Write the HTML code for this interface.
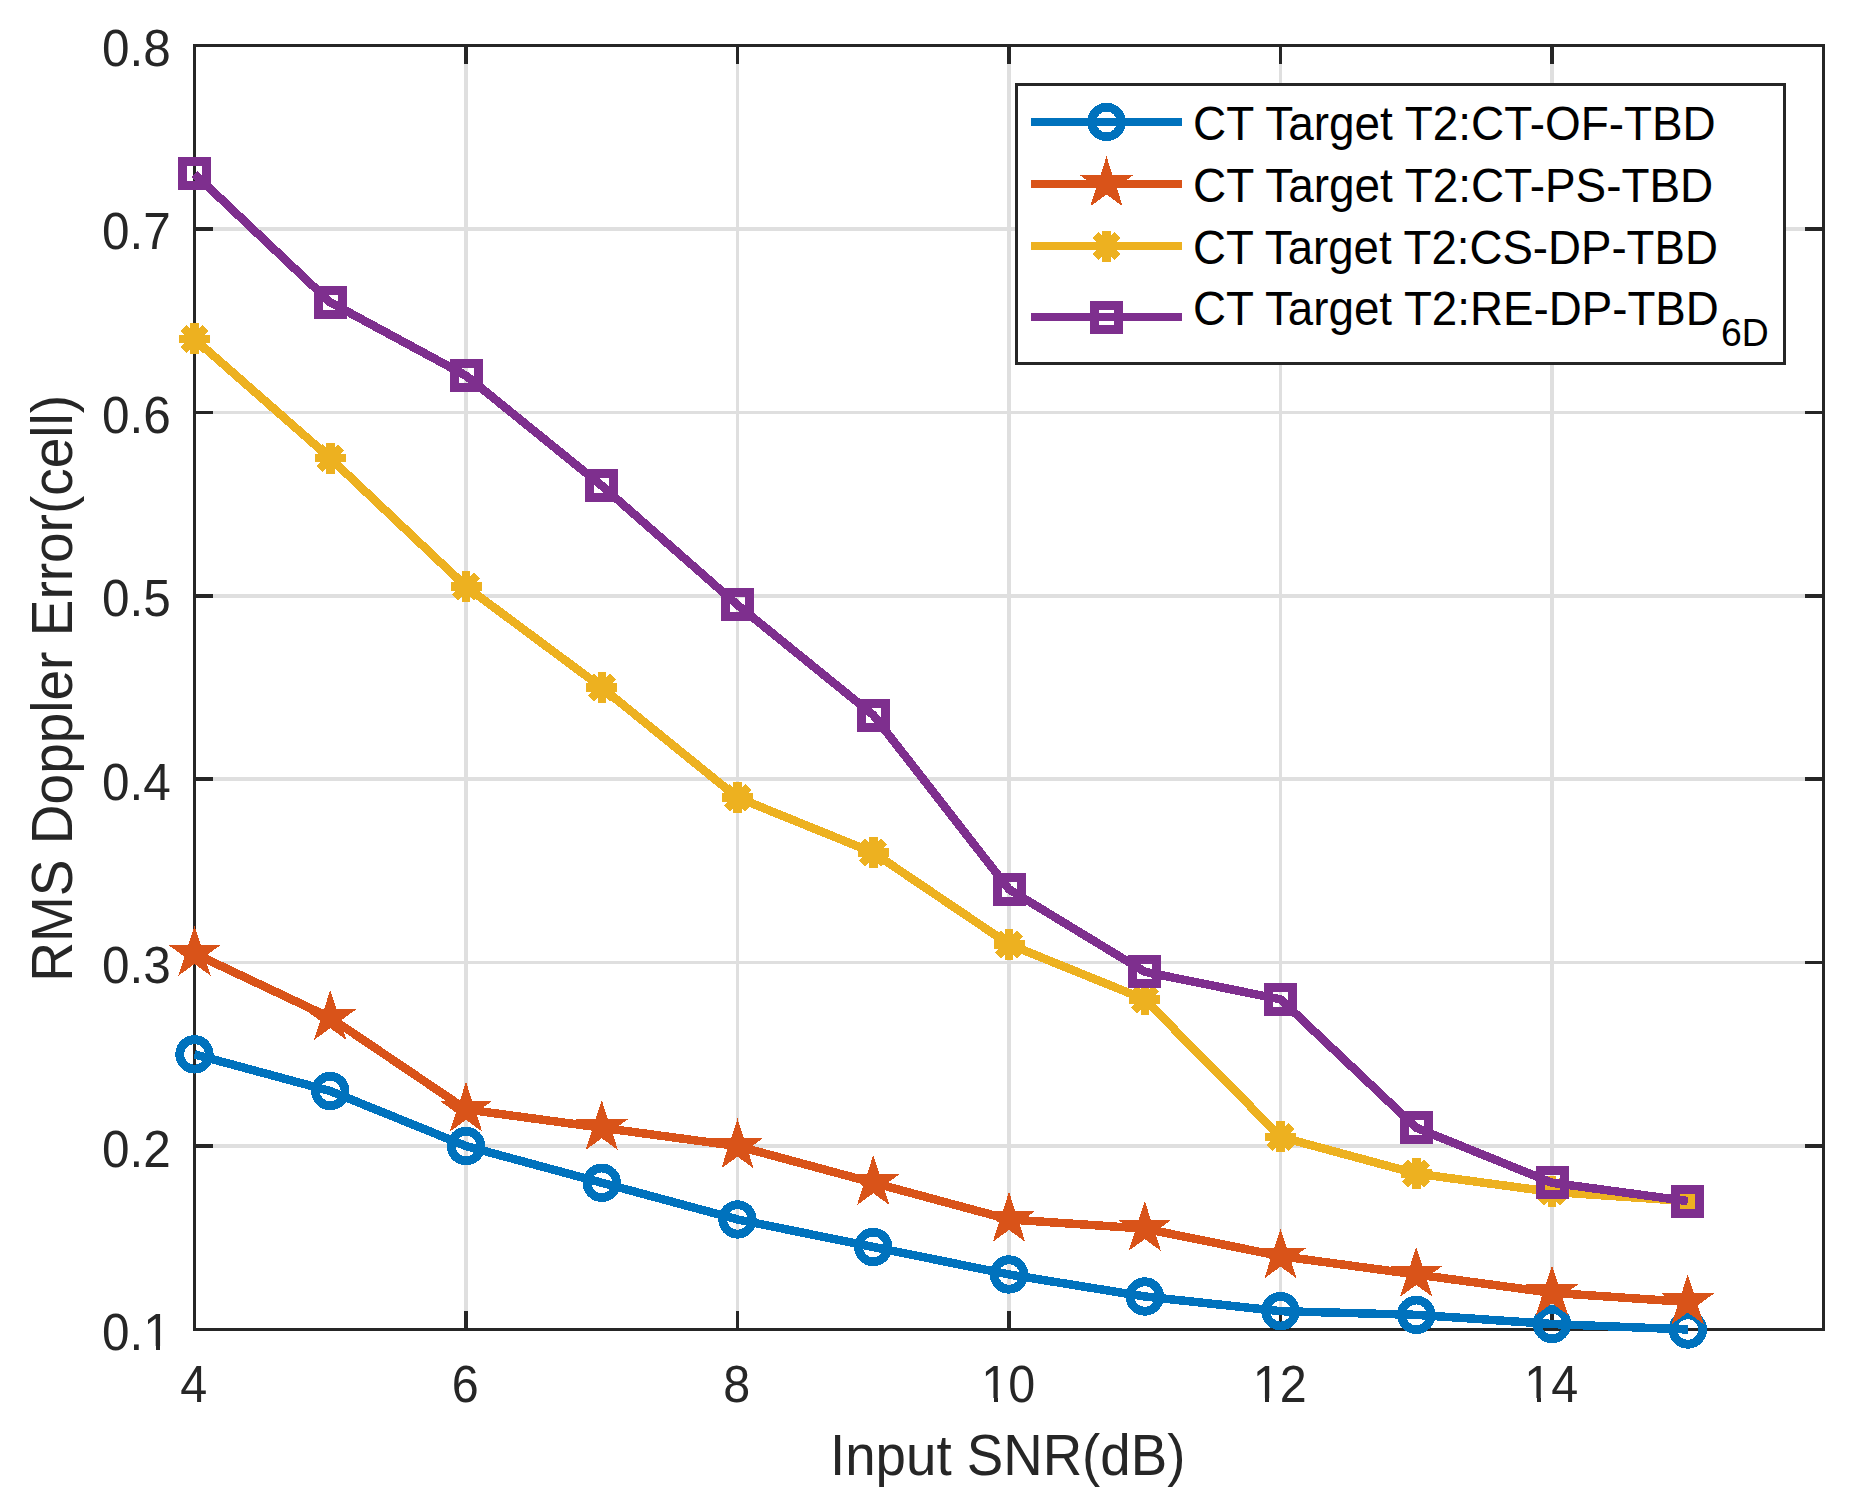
<!DOCTYPE html>
<html><head><meta charset="utf-8"><title>RMS Doppler Error</title>
<style>html,body{margin:0;padding:0;background:#fff;}svg{display:block;}
text{font-family:"Liberation Sans",Arial,Helvetica,sans-serif;}</style></head>
<body>
<svg width="1850" height="1501" viewBox="0 0 1850 1501">
<rect width="1850" height="1501" fill="#fff"/>
<path d="M464 46H468V1329H464ZM736 46H739V1329H736ZM1007 46H1011V1329H1007ZM1279 46H1282V1329H1279ZM1550 46H1554V1329H1550ZM195 1144H1823V1148H195ZM195 961H1823V964H195ZM195 777H1823V781H195ZM195 594H1823V598H195ZM195 411H1823V414H195ZM195 227H1823V231H195Z" fill="#dfdfdf" shape-rendering="crispEdges"/>
<path d="M464 1311H468V1330H464ZM464 45H468V64H464ZM736 1311H739V1330H736ZM736 45H739V64H736ZM1007 1311H1011V1330H1007ZM1007 45H1011V64H1007ZM1279 1311H1282V1330H1279ZM1279 45H1282V64H1279ZM1550 1311H1554V1330H1550ZM1550 45H1554V64H1550ZM195 1144H213V1148H195ZM1805 1144H1823V1148H1805ZM195 961H213V964H195ZM1805 961H1823V964H1805ZM195 777H213V781H195ZM1805 777H1823V781H1805ZM195 594H213V598H195ZM1805 594H1823V598H1805ZM195 411H213V414H195ZM1805 411H1823V414H1805ZM195 227H213V231H195ZM1805 227H1823V231H1805ZM193 44H1825V47H193ZM193 1328H1825V1331H193ZM193 44H196V1331H193ZM1822 44H1825V1331H1822Z" fill="#262626" shape-rendering="crispEdges"/>
<g font-size="51" fill="#262626"><text x="102" y="1350" textLength="68.8" lengthAdjust="spacingAndGlyphs">0.1</text><text x="102" y="1166.57" textLength="68.8" lengthAdjust="spacingAndGlyphs">0.2</text><text x="102" y="983.14" textLength="68.8" lengthAdjust="spacingAndGlyphs">0.3</text><text x="102" y="799.71" textLength="68.8" lengthAdjust="spacingAndGlyphs">0.4</text><text x="102" y="616.29" textLength="68.8" lengthAdjust="spacingAndGlyphs">0.5</text><text x="102" y="432.86" textLength="68.8" lengthAdjust="spacingAndGlyphs">0.6</text><text x="102" y="249.43" textLength="68.8" lengthAdjust="spacingAndGlyphs">0.7</text><text x="102" y="66" textLength="68.8" lengthAdjust="spacingAndGlyphs">0.8</text><text x="193.8" y="1402" text-anchor="middle" textLength="26.96" lengthAdjust="spacingAndGlyphs">4</text><text x="465.3" y="1402" text-anchor="middle" textLength="26.96" lengthAdjust="spacingAndGlyphs">6</text><text x="736.8" y="1402" text-anchor="middle" textLength="26.96" lengthAdjust="spacingAndGlyphs">8</text><text x="1008.3" y="1402" text-anchor="middle" textLength="53.9" lengthAdjust="spacingAndGlyphs">10</text><text x="1279.8" y="1402" text-anchor="middle" textLength="53.9" lengthAdjust="spacingAndGlyphs">12</text><text x="1551.3" y="1402" text-anchor="middle" textLength="53.9" lengthAdjust="spacingAndGlyphs">14</text></g>
<text x="1007.7" y="1475" font-size="57" fill="#262626" text-anchor="middle" textLength="355.3" lengthAdjust="spacingAndGlyphs">Input SNR(dB)</text>
<path d="M145 1346H156V1350H145ZM160 1346H170V1350H160ZM983 1398H994V1402H983ZM998 1398H1008V1402H998ZM1254 1398H1265V1402H1254ZM1269 1398H1280V1402H1269ZM1526 1398H1537V1402H1526ZM1541 1398H1551V1402H1541Z" fill="#fff" shape-rendering="crispEdges"/>
<text transform="translate(72 688.3) rotate(-90)" font-size="57" fill="#262626" text-anchor="middle" textLength="586.8" lengthAdjust="spacingAndGlyphs">RMS Doppler Error(cell)</text>
<polyline points="194.5,1054.36 330.25,1091.04 466,1146.07 601.75,1182.76 737.5,1219.44 873.25,1246.96 1009,1274.47 1144.75,1296.48 1280.5,1311.16 1416.25,1314.83 1552,1324 1687.75,1329.5" fill="none" stroke="#0072BD" stroke-width="8.5" stroke-linejoin="round" shape-rendering="crispEdges"/>
<circle cx="194.5" cy="1054.36" r="14.8" fill="none" stroke="#0072BD" stroke-width="8.8" shape-rendering="crispEdges"/><circle cx="330.25" cy="1091.04" r="14.8" fill="none" stroke="#0072BD" stroke-width="8.8" shape-rendering="crispEdges"/><circle cx="466" cy="1146.07" r="14.8" fill="none" stroke="#0072BD" stroke-width="8.8" shape-rendering="crispEdges"/><circle cx="601.75" cy="1182.76" r="14.8" fill="none" stroke="#0072BD" stroke-width="8.8" shape-rendering="crispEdges"/><circle cx="737.5" cy="1219.44" r="14.8" fill="none" stroke="#0072BD" stroke-width="8.8" shape-rendering="crispEdges"/><circle cx="873.25" cy="1246.96" r="14.8" fill="none" stroke="#0072BD" stroke-width="8.8" shape-rendering="crispEdges"/><circle cx="1009" cy="1274.47" r="14.8" fill="none" stroke="#0072BD" stroke-width="8.8" shape-rendering="crispEdges"/><circle cx="1144.75" cy="1296.48" r="14.8" fill="none" stroke="#0072BD" stroke-width="8.8" shape-rendering="crispEdges"/><circle cx="1280.5" cy="1311.16" r="14.8" fill="none" stroke="#0072BD" stroke-width="8.8" shape-rendering="crispEdges"/><circle cx="1416.25" cy="1314.83" r="14.8" fill="none" stroke="#0072BD" stroke-width="8.8" shape-rendering="crispEdges"/><circle cx="1552" cy="1324" r="14.8" fill="none" stroke="#0072BD" stroke-width="8.8" shape-rendering="crispEdges"/><circle cx="1687.75" cy="1329.5" r="14.8" fill="none" stroke="#0072BD" stroke-width="8.8" shape-rendering="crispEdges"/>
<polyline points="194.5,953.47 330.25,1017.67 466,1109.39 601.75,1127.73 737.5,1146.07 873.25,1182.76 1009,1219.44 1144.75,1228.61 1280.5,1256.13 1416.25,1274.47 1552,1292.81 1687.75,1301.99" fill="none" stroke="#D95319" stroke-width="8.5" stroke-linejoin="round" shape-rendering="crispEdges"/>
<polygon points="194.5,925.87 200.7,944.94 220.75,944.94 204.53,956.73 210.72,975.8 194.5,964.01 178.28,975.8 184.47,956.73 168.25,944.94 188.3,944.94" fill="#D95319" shape-rendering="crispEdges"/><polygon points="330.25,990.07 336.45,1009.14 356.5,1009.14 340.28,1020.93 346.47,1040 330.25,1028.21 314.03,1040 320.22,1020.93 304,1009.14 324.05,1009.14" fill="#D95319" shape-rendering="crispEdges"/><polygon points="466,1081.79 472.2,1100.86 492.25,1100.86 476.03,1112.64 482.22,1131.71 466,1119.93 449.78,1131.71 455.97,1112.64 439.75,1100.86 459.8,1100.86" fill="#D95319" shape-rendering="crispEdges"/><polygon points="601.75,1100.13 607.95,1119.2 628,1119.2 611.78,1130.99 617.97,1150.06 601.75,1138.27 585.53,1150.06 591.72,1130.99 575.5,1119.2 595.55,1119.2" fill="#D95319" shape-rendering="crispEdges"/><polygon points="737.5,1118.47 743.7,1137.54 763.75,1137.54 747.53,1149.33 753.72,1168.4 737.5,1156.61 721.28,1168.4 727.47,1149.33 711.25,1137.54 731.3,1137.54" fill="#D95319" shape-rendering="crispEdges"/><polygon points="873.25,1155.16 879.45,1174.23 899.5,1174.23 883.28,1186.02 889.47,1205.09 873.25,1193.3 857.03,1205.09 863.22,1186.02 847,1174.23 867.05,1174.23" fill="#D95319" shape-rendering="crispEdges"/><polygon points="1009,1191.84 1015.2,1210.91 1035.25,1210.91 1019.03,1222.7 1025.22,1241.77 1009,1229.99 992.78,1241.77 998.97,1222.7 982.75,1210.91 1002.8,1210.91" fill="#D95319" shape-rendering="crispEdges"/><polygon points="1144.75,1201.01 1150.95,1220.08 1171,1220.09 1154.78,1231.87 1160.97,1250.94 1144.75,1239.16 1128.53,1250.94 1134.72,1231.87 1118.5,1220.09 1138.55,1220.08" fill="#D95319" shape-rendering="crispEdges"/><polygon points="1280.5,1228.53 1286.7,1247.6 1306.75,1247.6 1290.53,1259.39 1296.72,1278.46 1280.5,1266.67 1264.28,1278.46 1270.47,1259.39 1254.25,1247.6 1274.3,1247.6" fill="#D95319" shape-rendering="crispEdges"/><polygon points="1416.25,1246.87 1422.45,1265.94 1442.5,1265.94 1426.28,1277.73 1432.47,1296.8 1416.25,1285.01 1400.03,1296.8 1406.22,1277.73 1390,1265.94 1410.05,1265.94" fill="#D95319" shape-rendering="crispEdges"/><polygon points="1552,1265.21 1558.2,1284.28 1578.25,1284.29 1562.03,1296.07 1568.22,1315.14 1552,1303.36 1535.78,1315.14 1541.97,1296.07 1525.75,1284.29 1545.8,1284.28" fill="#D95319" shape-rendering="crispEdges"/><polygon points="1687.75,1274.39 1693.95,1293.46 1714,1293.46 1697.78,1305.24 1703.97,1324.31 1687.75,1312.53 1671.53,1324.31 1677.72,1305.24 1661.5,1293.46 1681.55,1293.46" fill="#D95319" shape-rendering="crispEdges"/>
<polyline points="194.5,338.99 330.25,458.21 466,586.61 601.75,687.5 737.5,797.56 873.25,852.59 1009,944.3 1144.75,999.33 1280.5,1136.9 1416.25,1173.59 1552,1191.93 1687.75,1201.1" fill="none" stroke="#EDB120" stroke-width="8.5" stroke-linejoin="round" shape-rendering="crispEdges"/>
<path d="M179 338.99L210 338.99M183.54 328.03L205.46 349.95M194.5 323.49L194.5 354.49M205.46 328.03L183.54 349.95" stroke="#EDB120" stroke-width="8.5" fill="none" shape-rendering="crispEdges"/><path d="M314.75 458.21L345.75 458.21M319.29 447.25L341.21 469.17M330.25 442.71L330.25 473.71M341.21 447.25L319.29 469.17" stroke="#EDB120" stroke-width="8.5" fill="none" shape-rendering="crispEdges"/><path d="M450.5 586.61L481.5 586.61M455.04 575.65L476.96 597.57M466 571.11L466 602.11M476.96 575.65L455.04 597.57" stroke="#EDB120" stroke-width="8.5" fill="none" shape-rendering="crispEdges"/><path d="M586.25 687.5L617.25 687.5M590.79 676.54L612.71 698.46M601.75 672L601.75 703M612.71 676.54L590.79 698.46" stroke="#EDB120" stroke-width="8.5" fill="none" shape-rendering="crispEdges"/><path d="M722 797.56L753 797.56M726.54 786.6L748.46 808.52M737.5 782.06L737.5 813.06M748.46 786.6L726.54 808.52" stroke="#EDB120" stroke-width="8.5" fill="none" shape-rendering="crispEdges"/><path d="M857.75 852.59L888.75 852.59M862.29 841.63L884.21 863.55M873.25 837.09L873.25 868.09M884.21 841.63L862.29 863.55" stroke="#EDB120" stroke-width="8.5" fill="none" shape-rendering="crispEdges"/><path d="M993.5 944.3L1024.5 944.3M998.04 933.34L1019.96 955.26M1009 928.8L1009 959.8M1019.96 933.34L998.04 955.26" stroke="#EDB120" stroke-width="8.5" fill="none" shape-rendering="crispEdges"/><path d="M1129.25 999.33L1160.25 999.33M1133.79 988.37L1155.71 1010.29M1144.75 983.83L1144.75 1014.83M1155.71 988.37L1133.79 1010.29" stroke="#EDB120" stroke-width="8.5" fill="none" shape-rendering="crispEdges"/><path d="M1265 1136.9L1296 1136.9M1269.54 1125.94L1291.46 1147.86M1280.5 1121.4L1280.5 1152.4M1291.46 1125.94L1269.54 1147.86" stroke="#EDB120" stroke-width="8.5" fill="none" shape-rendering="crispEdges"/><path d="M1400.75 1173.59L1431.75 1173.59M1405.29 1162.63L1427.21 1184.55M1416.25 1158.09L1416.25 1189.09M1427.21 1162.63L1405.29 1184.55" stroke="#EDB120" stroke-width="8.5" fill="none" shape-rendering="crispEdges"/><path d="M1536.5 1191.93L1567.5 1191.93M1541.04 1180.97L1562.96 1202.89M1552 1176.43L1552 1207.43M1562.96 1180.97L1541.04 1202.89" stroke="#EDB120" stroke-width="8.5" fill="none" shape-rendering="crispEdges"/><path d="M1672.25 1201.1L1703.25 1201.1M1676.79 1190.14L1698.71 1212.06M1687.75 1185.6L1687.75 1216.6M1698.71 1190.14L1676.79 1212.06" stroke="#EDB120" stroke-width="8.5" fill="none" shape-rendering="crispEdges"/>
<polyline points="194.5,173.9 330.25,302.3 466,375.67 601.75,485.73 737.5,604.96 873.25,715.01 1009,889.27 1144.75,971.81 1280.5,999.33 1416.25,1127.73 1552,1182.76 1687.75,1201.1" fill="none" stroke="#7E2F8E" stroke-width="8.5" stroke-linejoin="round" shape-rendering="crispEdges"/>
<rect x="182.5" y="161.9" width="24" height="24" fill="none" stroke="#7E2F8E" stroke-width="9" shape-rendering="crispEdges"/><rect x="318.25" y="290.3" width="24" height="24" fill="none" stroke="#7E2F8E" stroke-width="9" shape-rendering="crispEdges"/><rect x="454" y="363.67" width="24" height="24" fill="none" stroke="#7E2F8E" stroke-width="9" shape-rendering="crispEdges"/><rect x="589.75" y="473.73" width="24" height="24" fill="none" stroke="#7E2F8E" stroke-width="9" shape-rendering="crispEdges"/><rect x="725.5" y="592.96" width="24" height="24" fill="none" stroke="#7E2F8E" stroke-width="9" shape-rendering="crispEdges"/><rect x="861.25" y="703.01" width="24" height="24" fill="none" stroke="#7E2F8E" stroke-width="9" shape-rendering="crispEdges"/><rect x="997" y="877.27" width="24" height="24" fill="none" stroke="#7E2F8E" stroke-width="9" shape-rendering="crispEdges"/><rect x="1132.75" y="959.81" width="24" height="24" fill="none" stroke="#7E2F8E" stroke-width="9" shape-rendering="crispEdges"/><rect x="1268.5" y="987.33" width="24" height="24" fill="none" stroke="#7E2F8E" stroke-width="9" shape-rendering="crispEdges"/><rect x="1404.25" y="1115.73" width="24" height="24" fill="none" stroke="#7E2F8E" stroke-width="9" shape-rendering="crispEdges"/><rect x="1540" y="1170.76" width="24" height="24" fill="none" stroke="#7E2F8E" stroke-width="9" shape-rendering="crispEdges"/><rect x="1675.75" y="1189.1" width="24" height="24" fill="none" stroke="#7E2F8E" stroke-width="9" shape-rendering="crispEdges"/>
<rect x="1016.5" y="84.5" width="768.0" height="279.0" fill="#fff" stroke="#262626" stroke-width="3" shape-rendering="crispEdges"/>
<path d="M1031 122H1182" stroke="#0072BD" stroke-width="8.5" fill="none" shape-rendering="crispEdges"/>
<circle cx="1106.5" cy="122" r="14.8" fill="none" stroke="#0072BD" stroke-width="8.8" shape-rendering="crispEdges"/>
<text x="1193" y="140" font-size="48" fill="#000" textLength="522.72" lengthAdjust="spacingAndGlyphs">CT Target T2:CT-OF-TBD</text>
<path d="M1031 184H1182" stroke="#D95319" stroke-width="8.5" fill="none" shape-rendering="crispEdges"/>
<polygon points="1106.5,156.4 1112.7,175.47 1132.75,175.47 1116.53,187.26 1122.72,206.33 1106.5,194.54 1090.28,206.33 1096.47,187.26 1080.25,175.47 1100.3,175.47" fill="#D95319" shape-rendering="crispEdges"/>
<text x="1193" y="202" font-size="48" fill="#000" textLength="520.22" lengthAdjust="spacingAndGlyphs">CT Target T2:CT-PS-TBD</text>
<path d="M1031 246H1182" stroke="#EDB120" stroke-width="8.5" fill="none" shape-rendering="crispEdges"/>
<path d="M1091 246L1122 246M1095.54 235.04L1117.46 256.96M1106.5 230.5L1106.5 261.5M1117.46 235.04L1095.54 256.96" stroke="#EDB120" stroke-width="8.5" fill="none" shape-rendering="crispEdges"/>
<text x="1193" y="264" font-size="48" fill="#000" textLength="524.84" lengthAdjust="spacingAndGlyphs">CT Target T2:CS-DP-TBD</text>
<path d="M1031 317H1182" stroke="#7E2F8E" stroke-width="8.5" fill="none" shape-rendering="crispEdges"/>
<rect x="1094.5" y="305" width="24" height="24" fill="none" stroke="#7E2F8E" stroke-width="9" shape-rendering="crispEdges"/>
<text x="1193" y="325" font-size="48" fill="#000" textLength="525.8" lengthAdjust="spacingAndGlyphs">CT Target T2:RE-DP-TBD</text>
<text x="1721" y="346" font-size="38.5" fill="#000" textLength="47.74" lengthAdjust="spacingAndGlyphs">6D</text>
</svg>
</body></html>
